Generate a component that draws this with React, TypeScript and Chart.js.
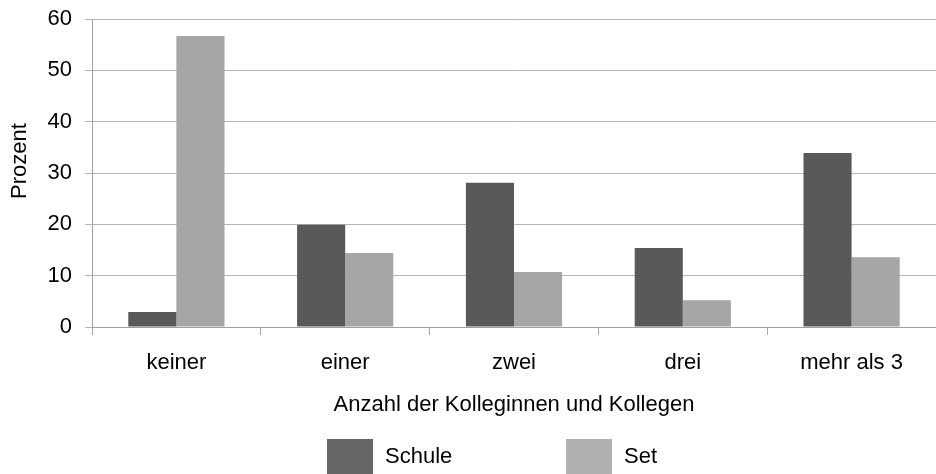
import React, { useEffect, useRef } from "react";
import { Chart, registerables } from "chart.js";

Chart.register(...registerables);

const categories = ["keiner", "einer", "zwei", "drei", "mehr als 3"];
const schule = [2.9, 19.9, 28.1, 15.4, 33.9];
const set = [56.7, 14.4, 10.7, 5.2, 13.6];
const seriesNames = ["Schule", "Set"];
const barColors = ["#595959", "#a6a6a6"];
const legendColors = ["#666666", "#b0b0b0"];
const yTitle = "Prozent";
const xTitle = "Anzahl der Kolleginnen und Kollegen";

const FONT = "'Liberation Sans', Arial, sans-serif";
const FS = 22;

const legendPlugin = {
  id: "customLegend",
  afterDraw(chart: any) {
    const ctx = chart.ctx as CanvasRenderingContext2D;
    ctx.save();
    ctx.font = `${FS}px ${FONT}`;
    ctx.textBaseline = "middle";
    ctx.textAlign = "left";
    const boxX = [327, 566];
    const boxY = 439;
    chart.data.datasets.forEach((ds: any, i: number) => {
      ctx.fillStyle = legendColors[i];
      ctx.fillRect(boxX[i], boxY, 46, 40);
      ctx.fillStyle = "#000000";
      ctx.fillText(ds.label, boxX[i] + 58, 457);
    });
    // y axis title
    ctx.translate(20, 161);
    ctx.rotate(-Math.PI / 2);
    ctx.textAlign = "center";
    ctx.fillText(yTitle, 0, 0);
    ctx.restore();
  },
};

export default function App() {
  const ref = useRef<HTMLCanvasElement | null>(null);
  useEffect(() => {
    document.body.style.margin = "0";
    const canvas = ref.current;
    if (!canvas) return;
    const chart = new Chart(canvas, {
      type: "bar",
      data: {
        labels: categories,
        datasets: [
          { label: seriesNames[0], data: schule, backgroundColor: barColors[0], borderWidth: 0 },
          { label: seriesNames[1], data: set, backgroundColor: barColors[1], borderWidth: 0 },
        ],
      },
      options: {
        animation: false,
        responsive: false,
        maintainAspectRatio: false,
        layout: { padding: { top: 19, right: 0, left: 0, bottom: 0 } },
        datasets: { bar: { categoryPercentage: 0.57, barPercentage: 1 } },
        plugins: { legend: { display: false }, tooltip: { enabled: false } },
        scales: {
          x: {
            grid: { offset: true, drawOnChartArea: false, tickLength: 8, color: "#a6a6a6" },
            border: { color: "#a0a0a0" },
            ticks: { color: "#000", font: { family: FONT, size: FS }, padding: 15, maxRotation: 0 },
            title: { display: true, text: xTitle, color: "#000", font: { family: FONT, size: FS }, padding: { top: 0, bottom: 56 } },
            afterFit: (s: any) => { s.height = 147; s.paddingLeft = 0; s.paddingRight = 0; },
          },
          y: {
            min: 0,
            max: 60,
            ticks: { stepSize: 10, color: "#000", font: { family: FONT, size: FS }, padding: 13 },
            grid: { color: "#b5b5b5", tickLength: 7 },
            border: { color: "#a0a0a0" },
            title: { display: false },
            afterFit: (s: any) => { s.width = 92; s.paddingTop = 0; s.paddingBottom = 0; },
          },
        },
      },
      plugins: [legendPlugin],
    });
    return () => chart.destroy();
  }, []);
  return (
    <div style={{ width: 936, height: 474 }}>
      <canvas ref={ref} width={936} height={474} style={{ display: "block" }} />
    </div>
  );
}
